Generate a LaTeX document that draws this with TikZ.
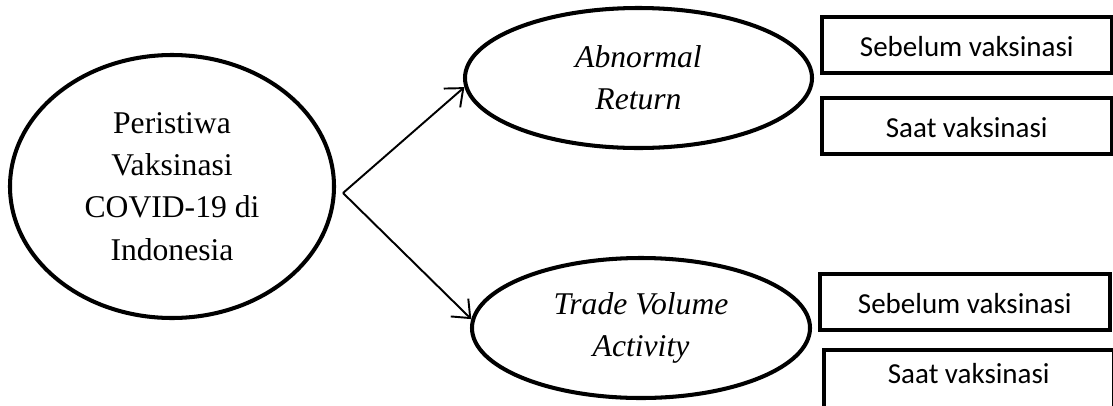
\documentclass[tikz,border=0pt]{standalone}
\usepackage{fontspec}
\setmainfont{Liberation Serif}
\newfontfamily\calibrifont{Carlito}
\usetikzlibrary{arrows.meta,shapes.geometric}

\begin{document}
\begin{tikzpicture}[>={Straight Barb[length=3mm,width=5mm]},
  every node/.style={font=\fontsize{18}{24}\selectfont},
  oval/.style={draw,ellipse,line width=2.3pt,align=center,inner sep=0pt},
  varbox/.style={draw,line width=2pt,anchor=north west,minimum width=5.8cm,inner sep=0pt,
    text height=0.8cm,text depth=0.32cm,font=\calibrifont\fontsize{16.5}{20}\selectfont}]
\useasboundingbox (0,0) rectangle (22.26,8.1);
\node[oval,minimum width=6.48cm,minimum height=5.26cm] (ev) at (3.44,4.37) {Peristiwa\\Vaksinasi\\COVID-19 di\\Indonesia};

\node[oval,minimum width=6.94cm,minimum height=2.8cm] (ar) at (12.77,6.54) {\textit{Abnormal}\\\textit{Return}};
\node[oval,minimum width=6.76cm,minimum height=2.8cm] (tv) at (12.82,1.54) {\textit{Trade Volume}\\\textit{Activity}};

\coordinate (fork) at ([shift={(0.14,-0.13)}]ev.east);
\draw[->,line width=1.1pt] (fork) -- (ar.183);
\draw[->,line width=1.1pt] (fork) -- (tv.177);

\node[varbox] (ar1) at (16.4,7.8) {Sebelum vaksinasi};
\node[varbox] (ar2) at (16.4,6.18) {Saat vaksinasi};
\node[varbox] (tv1) at (16.36,2.66) {Sebelum vaksinasi};
\node[varbox,text height=0.68cm,text depth=0.6cm] (tv2) at (16.44,1.14) {Saat vaksinasi};
\end{tikzpicture}
\end{document}
